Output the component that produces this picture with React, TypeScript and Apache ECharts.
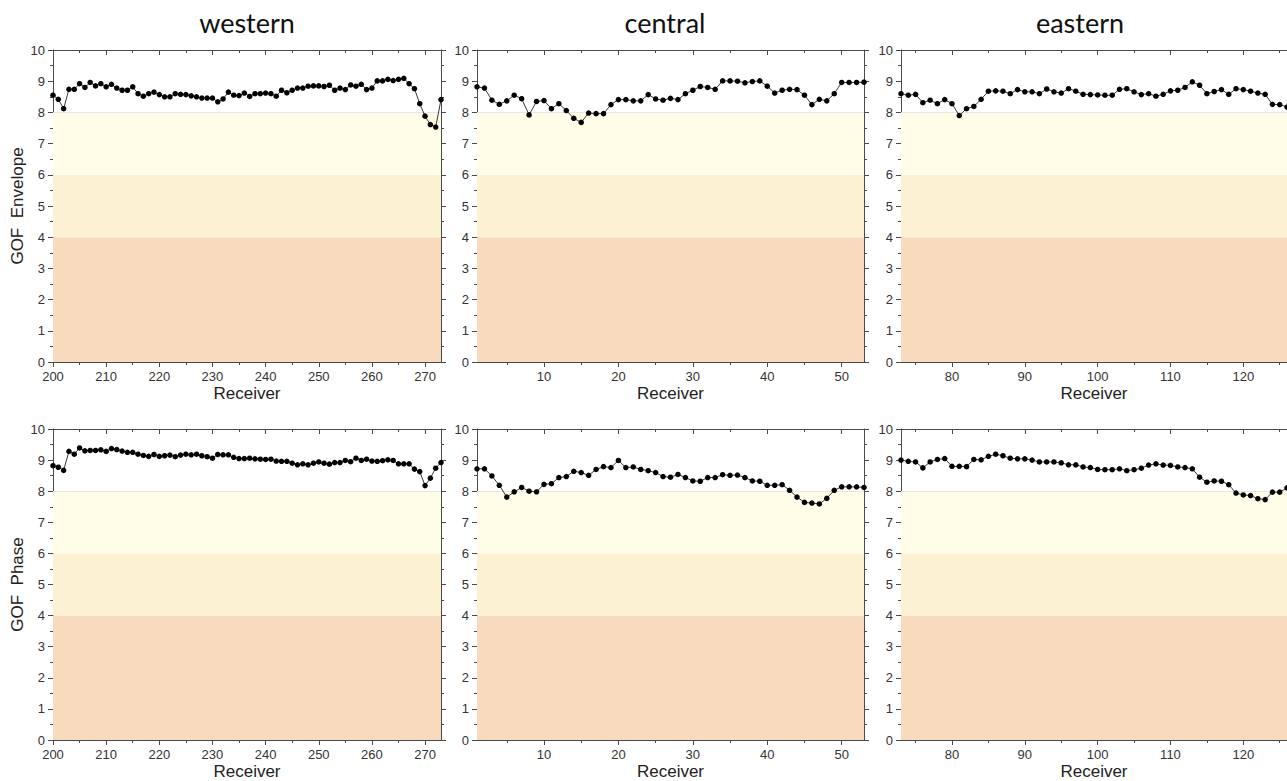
import React, { useEffect, useRef } from "react";
import * as echarts from "echarts";

// ---------------- data ----------------
const regionTitles = ["western", "central", "eastern"];
const rowNames = ["GOF  Envelope", "GOF  Phase"];

const xMin = [200, 1, 73];
const xMax = [273, 53, 126];
const receiverStart = [200, 1, 73];

const majorXTicks = [
  [200, 210, 220, 230, 240, 250, 260, 270],
  [10, 20, 30, 40, 50],
  [80, 90, 100, 110, 120],
];
const minorXTicks = [
  [205, 215, 225, 235, 245, 255, 265],
  [5, 15, 25, 35, 45],
  [75, 85, 95, 105, 115, 125],
];

const westEnvelope = [
  8.55, 8.42, 8.12, 8.74, 8.74, 8.92, 8.8, 8.96, 8.85, 8.92,
  8.82, 8.9, 8.78, 8.71, 8.71, 8.82, 8.6, 8.52, 8.6, 8.65,
  8.57, 8.5, 8.5, 8.6, 8.58, 8.57, 8.53, 8.5, 8.46, 8.46,
  8.46, 8.34, 8.43, 8.65, 8.55, 8.54, 8.62, 8.51, 8.6, 8.6,
  8.62, 8.6, 8.52, 8.71, 8.63, 8.71, 8.78, 8.78, 8.84, 8.85,
  8.85, 8.83, 8.87, 8.71, 8.78, 8.73, 8.88, 8.84, 8.9, 8.73,
  8.78, 9.01, 9.01, 9.06, 9.02, 9.06, 9.09, 8.92, 8.76, 8.28,
  7.88, 7.61, 7.53, 8.41,
];
const centralEnvelope = [
  8.82, 8.78, 8.39, 8.26, 8.37, 8.55, 8.44, 7.92, 8.35, 8.38,
  8.12, 8.28, 8.06, 7.81, 7.68, 7.98, 7.96, 7.96, 8.25, 8.41,
  8.41, 8.37, 8.37, 8.57, 8.43, 8.39, 8.45, 8.41, 8.6, 8.71,
  8.83, 8.8, 8.74, 9.01, 9.01, 9.0, 8.95, 8.99, 9.01, 8.84,
  8.62, 8.71, 8.74, 8.73, 8.55, 8.25, 8.42, 8.37, 8.6, 8.96,
  8.96, 8.96, 8.97,
];
const eastEnvelope = [
  8.6, 8.55, 8.58, 8.31, 8.39, 8.28, 8.41, 8.28, 7.9, 8.12,
  8.19, 8.42, 8.68, 8.69, 8.68, 8.6, 8.73, 8.66, 8.66, 8.6,
  8.75, 8.66, 8.62, 8.76, 8.68, 8.58, 8.57, 8.56, 8.55, 8.55,
  8.74, 8.76, 8.66, 8.57, 8.6, 8.52, 8.58, 8.69, 8.71, 8.8,
  8.98, 8.87, 8.6, 8.67, 8.73, 8.58, 8.76, 8.73, 8.68, 8.62,
  8.58, 8.26, 8.25, 8.17,
];
const westPhase = [
  8.82, 8.77, 8.67, 9.28, 9.19, 9.39, 9.3, 9.31, 9.31, 9.33,
  9.28, 9.37, 9.34, 9.29, 9.25, 9.25, 9.19, 9.15, 9.12, 9.18,
  9.12, 9.14, 9.16, 9.11, 9.16, 9.19, 9.17, 9.19, 9.14, 9.11,
  9.06, 9.18, 9.17, 9.17, 9.09, 9.05, 9.05, 9.06, 9.04, 9.03,
  9.02, 9.03, 8.97, 8.96, 8.96, 8.9, 8.85, 8.88, 8.85, 8.9,
  8.94, 8.9, 8.87, 8.92, 8.92, 8.99, 8.95, 9.06, 8.99, 9.03,
  8.97, 8.96, 8.98, 9.01, 8.99, 8.88, 8.88, 8.88, 8.71, 8.63,
  8.18, 8.42, 8.74, 8.92,
];
const centralPhase = [
  8.72, 8.72, 8.49, 8.19, 7.81, 7.98, 8.12, 8.0, 7.98, 8.22,
  8.24, 8.44, 8.47, 8.64, 8.6, 8.51, 8.7, 8.79, 8.76, 8.99,
  8.76, 8.78, 8.7, 8.66, 8.6, 8.47, 8.45, 8.54, 8.44, 8.33,
  8.32, 8.44, 8.44, 8.53, 8.51, 8.52, 8.44, 8.33, 8.32, 8.19,
  8.19, 8.21, 8.03, 7.81, 7.64, 7.62, 7.59, 7.77, 8.03, 8.14,
  8.14, 8.14, 8.12,
];
const eastPhase = [
  9.0, 8.96, 8.94, 8.75, 8.94, 9.02, 9.05, 8.8, 8.8, 8.79,
  9.02, 9.01, 9.12, 9.19, 9.14, 9.06, 9.04, 9.04, 9.0, 8.94,
  8.94, 8.94, 8.91, 8.85, 8.85, 8.78, 8.76, 8.7, 8.69, 8.69,
  8.72, 8.66, 8.69, 8.74, 8.84, 8.88, 8.84, 8.83, 8.78, 8.76,
  8.72, 8.45, 8.29, 8.33, 8.32, 8.21, 7.94, 7.88, 7.86, 7.76,
  7.73, 7.97, 7.97, 8.11,
];

const panelValues = [
  [westEnvelope, centralEnvelope, eastEnvelope],
  [westPhase, centralPhase, eastPhase],
];

const yTicks = [0, 1, 2, 3, 4, 5, 6, 7, 8, 9, 10];
const bandEdges = [0, 4, 6, 8];

// ---------------- layout/style ----------------
const cols = [
  { left: 53, width: 388 },
  { left: 477, width: 387 },
  { left: 901, width: 388 },
];
const titleX = [247, 665, 1080];
const rows = [
  { top: 50, height: 312 },
  { top: 429, height: 312 },
];
const bandColors = ["#F8DBBE", "#FDF1D3", "#FFFDE7"];
const AXIS = "#4a4a4a";
const TXT = "#333333";
const FONT = "'Liberation Sans', Arial, sans-serif";

function buildOption() {
  const grid: any[] = [];
  const xAxis: any[] = [];
  const yAxis: any[] = [];
  const series: any[] = [];
  const graphic: any[] = [];

  regionTitles.forEach((t, c) => {
    graphic.push({
      type: "text",
      x: titleX[c],
      y: 22,
      style: {
        text: t,
        font: "27px Lato, 'Open Sans', sans-serif",
        fill: "#111",
        textAlign: "center",
        textVerticalAlign: "middle",
      },
    });
  });

  rows.forEach((r, ri) => {
    cols.forEach((c, ci) => {
      const gi = grid.length;
      grid.push({ left: c.left, top: r.top, width: c.width, height: r.height, containLabel: false });
      const base = { gridIndex: gi, type: "value", min: xMin[ci], max: xMax[ci], splitLine: { show: false } };
      xAxis.push({
        ...base,
        position: "bottom",
        name: "Receiver",
        nameLocation: "middle",
        nameGap: 23,
        nameTextStyle: { fontFamily: FONT, fontSize: 17, color: "#222" },
        axisLine: { show: true, onZero: false, lineStyle: { color: AXIS, width: 1 } },
        axisTick: { show: true, inside: false, length: 5, customValues: majorXTicks[ci], lineStyle: { color: AXIS } },
        axisLabel: { show: true, customValues: majorXTicks[ci], margin: 8, fontFamily: FONT, fontSize: 13, color: TXT },
      });
      xAxis.push({
        ...base,
        position: "bottom",
        axisLine: { show: false, onZero: false },
        axisTick: { show: true, inside: false, length: 3, customValues: minorXTicks[ci], lineStyle: { color: AXIS } },
        axisLabel: { show: false },
      });
      xAxis.push({
        ...base,
        position: "top",
        axisLine: { show: true, onZero: false, lineStyle: { color: AXIS, width: 1 } },
        axisTick: { show: true, inside: true, length: 5, customValues: majorXTicks[ci], lineStyle: { color: AXIS } },
        axisLabel: { show: false },
      });
      xAxis.push({
        ...base,
        position: "top",
        axisLine: { show: false, onZero: false },
        axisTick: { show: true, inside: true, length: 3, customValues: minorXTicks[ci], lineStyle: { color: AXIS } },
        axisLabel: { show: false },
      });
      const xIdx = xAxis.length - 4;

      const yBase = {
        gridIndex: gi,
        type: "value",
        min: 0,
        max: 10,
        interval: 1,
        splitLine: { show: false },
        minorTick: { show: true, splitNumber: 2, length: 3, lineStyle: { color: AXIS } },
        axisTick: { show: true, inside: false, length: 5, lineStyle: { color: AXIS } },
        axisLine: { show: true, onZero: false, lineStyle: { color: AXIS, width: 1 } },
      };
      yAxis.push({
        ...yBase,
        position: "left",
        axisLabel: { show: true, margin: 8, fontFamily: FONT, fontSize: 13, color: TXT, customValues: yTicks },
        ...(ci === 0
          ? {
              name: rowNames[ri],
              nameLocation: "middle",
              nameGap: 27,
              nameTextStyle: { fontFamily: FONT, fontSize: 17, color: "#222" },
            }
          : {}),
      });
      const yIdx = yAxis.length - 1;
      yAxis.push({ ...yBase, position: "right", axisLabel: { show: false } });

      const vals = panelValues[ri][ci];
      const data = vals.map((v, i) => [receiverStart[ci] + i, v]);
      series.push({
        type: "line",
        xAxisIndex: xIdx,
        yAxisIndex: yIdx,
        data,
        symbol: "circle",
        symbolSize: 5.5,
        itemStyle: { color: "#000" },
        lineStyle: { color: "#3a3a3a", width: 1 },
        z: 5,
        markArea: {
          silent: true,
          data: bandColors.map((col, k) => [
            { yAxis: bandEdges[k], itemStyle: { color: col } },
            { yAxis: bandEdges[k + 1] },
          ]),
        },
        markLine: {
          silent: true,
          symbol: "none",
          label: { show: false },
          lineStyle: { color: "#e6e6e6", width: 1, type: "solid" },
          data: [{ yAxis: 8 }],
        },
      });
    });
  });

  return { animation: false, backgroundColor: "#ffffff", grid, xAxis, yAxis, series, graphic };
}

export default function App() {
  const ref = useRef<HTMLDivElement>(null);
  useEffect(() => {
    if (!ref.current) return;
    const chart = echarts.init(ref.current, undefined, { renderer: "svg" });
    chart.setOption(buildOption() as any);
    return () => chart.dispose();
  }, []);
  return (
    <div
      ref={ref}
      style={{ position: "absolute", left: 0, top: 0, width: 1287, height: 781, background: "#fff" }}
    />
  );
}
